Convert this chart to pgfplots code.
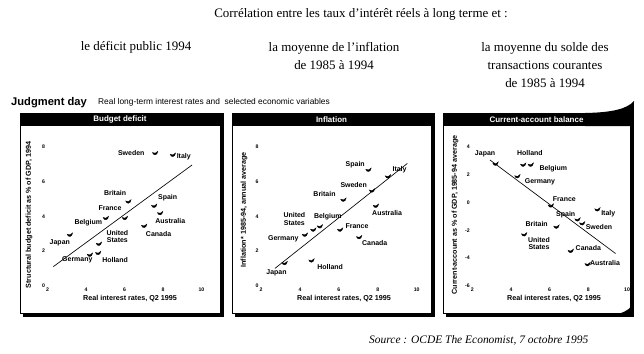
\documentclass[border=0pt]{standalone}
\usepackage{pgfplots}
\pgfplotsset{compat=1.18}
\usepackage{fontspec}
\setmainfont{Liberation Serif}
\setsansfont{Liberation Sans}
\newcommand\lab{\sffamily\bfseries\fontsize{7}{7.4}\selectfont}
\newcommand\axl{\sffamily\bfseries\fontsize{7.2}{7.6}\selectfont}
\newcommand\tk{\sffamily\bfseries\fontsize{5.2}{5.4}\selectfont}
\newcommand\fr{\fontsize{13}{18}\selectfont}
\pgfdeclareplotmark{econ}{%
 \pgfpathmoveto{\pgfqpoint{-2.9pt}{0.8pt}}%
 \pgfpathcurveto{\pgfqpoint{-2.1pt}{-2.5pt}}{\pgfqpoint{2.1pt}{-2.5pt}}{\pgfqpoint{2.6pt}{2.1pt}}%
 \pgfpathcurveto{\pgfqpoint{1.0pt}{-0.2pt}}{\pgfqpoint{-1.0pt}{-0.4pt}}{\pgfqpoint{-2.9pt}{0.8pt}}%
 \pgfpathclose\pgfusepathqfillstroke}
\pgfplotsset{econ/.style={scale only axis, height=139.3bp, xmin=2, xmax=10,
  xtick={2,4,6,8,10}, axis line style={draw=none}, tick style={draw=none},
  ticklabel style={font=\tk}, /pgf/number format/assume math mode=true,
  xticklabel style={yshift=1.5bp}, yticklabel style={xshift=1bp},
  clip=false, anchor=south west},
  dots/.style={only marks, mark=econ, mark options={fill=black, draw=black, line width=0.3pt}},
  reg/.style={black, line width=0.65pt}}
\begin{document}
\begin{tikzpicture}[x=1bp,y=1bp]
\useasboundingbox (0,0) rectangle (644,353);
\fill[white] (0,0) rectangle (644,353);
% French headings
\node[font=\fr] at (361,339) {Corrélation entre les taux d'intérêt réels à long terme et :};
\node[font=\fr] at (136,306) {le déficit public 1994};
\node[font=\fr, align=center] at (334,297) {la moyenne de l'inflation\\de 1985 à 1994};
\node[font=\fr, align=center] at (545,288) {la moyenne du solde des\\transactions courantes\\de 1985 à 1994};
% Economist heading
\node[anchor=west, font=\sffamily\bfseries\fontsize{11.2}{12}\selectfont, inner sep=0] at (11,250.5) {Judgment day};
\node[anchor=west, font=\sffamily\fontsize{8.4}{9}\selectfont, inner sep=0] at (98,251) {Real long-term interest rates and\ \ selected economic variables};
% frames
\foreach \a/\b/\t in {20/220/Budget deficit, 232/431/Inflation, 443/630/Current-account balance}{
  \fill[black] (\a+2.5,36.5) rectangle (\b+3.5,240);
  \fill[white] (\a,39.5) rectangle (\b,240);
  \draw[line width=0.9pt] (\a,39.5) rectangle (\b,240);
  \fill[black] (\a,227) rectangle (\b,240);
  \node[text=white, font=\sffamily\bfseries\fontsize{8}{9}\selectfont] at ({(\a+\b)/2},233.5) {\t};
}
% page curl on the third panel
\fill[black] (585,240) .. controls (612,240.5) and (627,244) .. (634,252) -- (633.5,227) -- (585,227) -- cycle;
\fill[black] (595,36.5) .. controls (615,36.5) and (628,40) .. (634,50) -- (633.5,60) -- (630,60) -- (630,39.5) -- cycle;
% Panel 1
\begin{axis}[econ, at={(47.5bp,67bp)}, width=154bp, ymin=0, ymax=8, ytick={0,2,4,6,8}]
\addplot[reg] coordinates {(2.30,1.11) (9.51,6.95)};
\addplot[dots] coordinates {(7.60,7.62) (8.52,7.52) (6.21,4.84) (7.55,4.59) (6.03,3.89) (7.86,4.17)
 (5.04,3.89) (7.03,3.44) (3.17,2.93) (4.68,2.41) (4.21,1.78) (4.64,1.88)};
\node[font=\lab] at (axis cs:6.35,7.62) {Sweden};
\node[font=\lab] at (axis cs:9.08,7.43) {Italy};
\node[font=\lab] at (axis cs:5.51,5.32) {Britain};
\node[font=\lab] at (axis cs:8.24,5.07) {Spain};
\node[font=\lab] at (axis cs:5.25,4.46) {France};
\node[font=\lab] at (axis cs:8.38,3.75) {Australia};
\node[font=\lab] at (axis cs:4.12,3.66) {Belgium};
\node[font=\lab, align=center] at (axis cs:5.63,2.83) {United\\States};
\node[font=\lab] at (axis cs:7.77,2.99) {Canada};
\node[font=\lab] at (axis cs:2.64,2.49) {Japan};
\node[font=\lab] at (axis cs:3.55,1.49) {Germany};
\node[font=\lab] at (axis cs:5.51,1.49) {Holland};
\end{axis}
% Panel 2
\begin{axis}[econ, at={(261.1bp,67bp)}, width=155.6bp, ymin=0, ymax=8, ytick={0,2,4,6,8}]
\addplot[reg] coordinates {(2.71,1.01) (9.52,7.04)};
\addplot[dots] coordinates {(7.53,6.66) (8.53,6.28) (7.71,5.47) (6.24,4.94) (7.91,4.59) (5.03,3.41)
 (4.69,3.22) (4.26,2.93) (6.07,3.22) (7.05,2.79) (4.60,1.45) (3.22,1.30)};
\node[font=\lab] at (axis cs:6.84,6.99) {Spain};
\node[font=\lab] at (axis cs:9.12,6.66) {Italy};
\node[font=\lab] at (axis cs:6.76,5.80) {Sweden};
\node[font=\lab] at (axis cs:5.26,5.26) {Britain};
\node[font=\lab] at (axis cs:8.48,4.21) {Australia};
\node[font=\lab, align=center] at (axis cs:3.71,3.85) {United\\States};
\node[font=\lab] at (axis cs:5.43,3.98) {Belgium};
\node[font=\lab] at (axis cs:6.93,3.44) {France};
\node[font=\lab] at (axis cs:3.14,2.74) {Germany};
\node[font=\lab] at (axis cs:7.84,2.49) {Canada};
\node[font=\lab] at (axis cs:5.55,1.11) {Holland};
\node[font=\lab] at (axis cs:2.79,0.77) {Japan};
\end{axis}
% Panel 3
\begin{axis}[econ, at={(472.3bp,67bp)}, width=154.7bp, ymin=-6, ymax=4, ytick={-6,-4,-2,0,2,4}]
\addplot[reg] coordinates {(2.91,3.05) (9.41,-3.67)};
\addplot[dots] coordinates {(3.21,2.76) (4.64,2.69) (5.03,2.69) (4.34,1.86) (6.07,-0.24) (8.48,-0.52)
 (7.45,-1.24) (7.69,-1.52) (6.36,-1.76) (4.69,-2.31) (7.10,-3.50) (7.97,-4.45)};
\node[font=\lab] at (axis cs:2.66,3.52) {Japan};
\node[font=\lab] at (axis cs:4.98,3.52) {Holland};
\node[font=\lab] at (axis cs:6.19,2.45) {Belgium};
\node[font=\lab] at (axis cs:5.50,1.50) {Germany};
\node[font=\lab] at (axis cs:6.76,0.24) {France};
\node[font=\lab] at (axis cs:9.03,-0.81) {Italy};
\node[font=\lab] at (axis cs:6.83,-0.88) {Spain};
\node[font=\lab] at (axis cs:8.55,-1.76) {Sweden};
\node[font=\lab] at (axis cs:5.33,-1.52) {Britain};
\node[font=\lab, align=center] at (axis cs:5.45,-2.93) {United\\States};
\node[font=\lab] at (axis cs:8.00,-3.26) {Canada};
\node[font=\lab] at (axis cs:8.86,-4.38) {Australia};
\end{axis}
% axis titles
\node[rotate=90, font=\axl] at (29,138) {Structural budget deficit as \% of GDP, 1994};
\node[rotate=90, font=\axl] at (244,143) {Inflation* 1985-94, annual average};
\node[rotate=90, font=\axl] at (455,138) {Current-account as \% of GDP, 1985-94 average};
\node[font=\axl] at (130,54) {Real interest rates, Q2 1995};
\node[font=\axl] at (344,54) {Real interest rates, Q2 1995};
\node[font=\axl] at (554,54) {Real interest rates, Q2 1995};
% source
\node[font=\itshape\fontsize{11.5}{12}\selectfont, anchor=west, inner sep=0] at (369,13) {Source : OCDE The Economist, 7 octobre 1995};
\end{tikzpicture}
\end{document}
